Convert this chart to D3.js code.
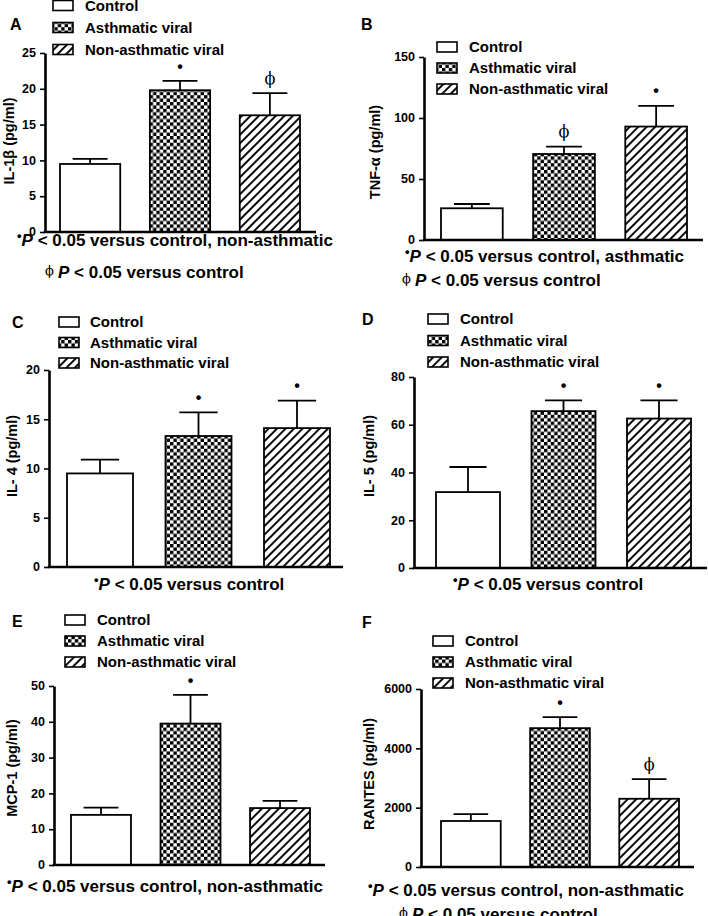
<!DOCTYPE html>
<html>
<head>
<meta charset="utf-8">
<script src="https://cdn.jsdelivr.net/npm/d3@7"></script>
<style>
  html, body { margin: 0; padding: 0; background: #fff; }
  svg { display: block; font-family: "Liberation Sans", Arial, sans-serif; }
</style>
</head>
<body>
<svg id="chart" width="709" height="916"></svg>
<script>
// ---------------- DATA ----------------
const groups = ["Control", "Asthmatic viral", "Non-asthmatic viral"];
const panelLetters = ["A", "B", "C", "D", "E", "F"];
const yLabels = ["IL-1\u03b2 (pg/ml)", "TNF-\u03b1 (pg/ml)", "IL- 4  (pg/ml)", "IL- 5 (pg/ml)", "MCP-1 (pg/ml)", "RANTES (pg/ml)"];
const yMax = [25, 150, 20, 80, 50, 6000];
const yTickStep = [5, 50, 5, 20, 10, 2000];
const meansA = [9.5, 19.8, 16.3];
const meansB = [26, 70.5, 93];
const meansC = [9.5, 13.3, 14.1];
const meansD = [31.8, 65.7, 62.6];
const meansE = [14, 39.5, 15.9];
const meansF = [1550, 4680, 2300];
const semA = [0.7, 1.3, 3.1];
const semB = [3.5, 6, 17];
const semC = [1.4, 2.4, 2.8];
const semD = [10.5, 4.5, 7.6];
const semE = [2, 8, 2];
const semF = [230, 370, 660];
const sigMarks = [
  ["", "\u2022", "\u03d5"],
  ["", "\u03d5", "\u2022"],
  ["", "\u2022", "\u2022"],
  ["", "\u2022", "\u2022"],
  ["", "\u2022", ""],
  ["", "\u2022", "\u03d5"]
];
const footnotes = [
  [["\u2022", "P", " < 0.05 versus control, non-asthmatic"], ["\u03d5", "P", " < 0.05 versus control"]],
  [["\u2022", "P", " < 0.05 versus control, asthmatic"], ["\u03d5", "P", " < 0.05 versus control"]],
  [["\u2022", "P", " < 0.05 versus control"]],
  [["\u2022", "P", " < 0.05 versus control"]],
  [["\u2022", "P", " < 0.05 versus control, non-asthmatic"]],
  [["\u2022", "P", " < 0.05 versus control, non-asthmatic"], ["\u03d5", "P", " < 0.05 versus control"]]
];
const allMeans = [meansA, meansB, meansC, meansD, meansE, meansF];
const allSem = [semA, semB, semC, semD, semE, semF];

// ---------------- LAYOUT ----------------
const layout = [
  {ax:45,  ax2:316, y0:232, yTop:53,  barL:60,  barR:300, letter:[10,30],  leg:[53,5.5,22], legText:85,  ylab:[9,141],   foot:[[17,246],[45,278]]},
  {ax:424, ax2:703, y0:240, yTop:57,  barL:441, barR:687, letter:[361,30], leg:[437,47,21], legText:469, ylab:[375,152], foot:[[405,262],[402,286]]},
  {ax:49,  ax2:343, y0:567, yTop:370, barL:67,  barR:330, letter:[12,328], leg:[59,322,20.5], legText:90, ylab:[12,456], foot:[[94,590]]},
  {ax:414, ax2:707, y0:568, yTop:377, barL:436, barR:691, letter:[362,325], leg:[428,319,21.5], legText:460, ylab:[369,456], foot:[[453,590]]},
  {ax:54,  ax2:325, y0:865, yTop:686, barL:71,  barR:310, letter:[12,627], leg:[65,620,21], legText:97,  ylab:[12,768], foot:[[7,892]]},
  {ax:421, ax2:694, y0:867, yTop:689, barL:441, barR:679, letter:[362,628], leg:[433,641,21], legText:465, ylab:[369,774], foot:[[368,896],[399,920]]}
];

const phiFont = "'DejaVu Serif', 'Liberation Serif', serif";
const svg = d3.select("#chart");
const defs = svg.append("defs");

// checkerboard pattern
const chk = defs.append("pattern").attr("id", "checker")
  .attr("patternUnits", "userSpaceOnUse").attr("width", 6.8).attr("height", 6.8);
chk.append("rect").attr("width", 6.8).attr("height", 6.8).attr("fill", "#fff");
chk.append("rect").attr("x", 0).attr("y", 0).attr("width", 3.4).attr("height", 3.4).attr("fill", "#000");
chk.append("rect").attr("x", 3.4).attr("y", 3.4).attr("width", 3.4).attr("height", 3.4).attr("fill", "#000");

// diagonal hatch pattern "/"
const hat = defs.append("pattern").attr("id", "hatch")
  .attr("patternUnits", "userSpaceOnUse").attr("width", 6).attr("height", 6)
  .attr("patternTransform", "rotate(45)");
hat.append("rect").attr("width", 6).attr("height", 6).attr("fill", "#fff");
hat.append("line").attr("x1", 1).attr("y1", 0).attr("x2", 1).attr("y2", 6)
  .attr("stroke", "#000").attr("stroke-width", 1.9);

const fills = ["#fff", "url(#checker)", "url(#hatch)"];

layout.forEach((L, i) => {
  const g = svg.append("g");
  const means = allMeans[i], sem = allSem[i];

  const y = d3.scaleLinear().domain([0, yMax[i]]).range([L.y0, L.yTop]);
  const x = d3.scaleBand().domain(groups).range([L.barL, L.barR]).paddingInner(0.33).paddingOuter(0);
  const bw = x.bandwidth();

  // panel letter
  g.append("text").attr("x", L.letter[0]).attr("y", L.letter[1])
    .attr("font-size", 16).attr("font-weight", "bold").attr("fill", "#000").text(panelLetters[i]);

  // legend
  groups.forEach((name, k) => {
    const cy = L.leg[1] + k * L.leg[2];
    g.append("rect").attr("x", L.leg[0]).attr("y", cy - 5).attr("width", 20).attr("height", 10)
      .attr("fill", fills[k]).attr("stroke", "#000").attr("stroke-width", 1.6);
    g.append("text").attr("x", L.legText).attr("y", cy).attr("dy", "0.36em")
      .attr("font-size", 15).attr("font-weight", "bold").attr("fill", "#000").text(name);
  });

  // bars
  g.selectAll("rect.bar").data(groups).join("rect").attr("class", "bar")
    .attr("x", d => x(d)).attr("width", bw)
    .attr("y", (d, k) => y(means[k])).attr("height", (d, k) => L.y0 - y(means[k]))
    .attr("fill", (d, k) => fills[k]).attr("stroke", "#000").attr("stroke-width", 1.8);

  // error bars (upper)
  const capW = bw * 0.58;
  groups.forEach((d, k) => {
    const cx = x(d) + bw / 2;
    const top = y(means[k] + sem[k]);
    g.append("line").attr("x1", cx).attr("x2", cx).attr("y1", y(means[k])).attr("y2", top)
      .attr("stroke", "#000").attr("stroke-width", 1.8);
    g.append("line").attr("x1", cx - capW / 2).attr("x2", cx + capW / 2).attr("y1", top).attr("y2", top)
      .attr("stroke", "#000").attr("stroke-width", 1.8);
    const m = sigMarks[i][k];
    if (m) {
      const isPhi = m !== "\u2022";
      g.append("text").attr("x", cx).attr("y", top - 15).attr("dy", "0.35em")
        .attr("text-anchor", "middle").attr("fill", "#000")
        .attr("font-family", isPhi ? phiFont : null)
        .attr("font-size", 16).attr("font-weight", isPhi ? "normal" : "bold")
        .text(m);
    }
  });

  // y axis
  const ticks = d3.range(0, yMax[i] + 1e-9, yTickStep[i]);
  const yAxis = g.append("g").attr("transform", `translate(${L.ax},0)`)
    .call(d3.axisLeft(y).tickValues(ticks).tickSize(5).tickSizeOuter(0).tickPadding(4).tickFormat(d3.format("d")));
  yAxis.select(".domain").attr("stroke-width", 2.6);
  yAxis.selectAll(".tick line").attr("stroke-width", 1.6);
  yAxis.selectAll(".tick text").attr("font-size", 12.5).attr("font-weight", "bold")
    .attr("font-family", "'Liberation Sans', Arial, sans-serif").attr("fill", "#000").attr("dy", "0.3em");

  // x axis line
  g.append("line").attr("x1", L.ax - 1.3).attr("x2", L.ax2).attr("y1", L.y0).attr("y2", L.y0)
    .attr("stroke", "#000").attr("stroke-width", 2.6);

  // y label
  g.append("text").attr("transform", `translate(${L.ylab[0]},${L.ylab[1]}) rotate(-90)`)
    .attr("text-anchor", "middle").attr("dy", "0.35em").attr("fill", "#000")
    .attr("font-size", 14.5).attr("font-weight", "bold").text(yLabels[i]);

  // footnotes
  footnotes[i].forEach((fn, j) => {
    const pos = L.foot[j];
    const t = g.append("text").attr("x", pos[0]).attr("y", pos[1]).attr("fill", "#000")
      .attr("font-size", 17).attr("font-weight", "bold");
    if (fn[0] === "\u2022") {
      t.append("tspan").attr("font-size", 13).attr("dy", -6).text(fn[0]);
      t.append("tspan").attr("dy", 6).attr("font-style", "italic").text(fn[1]);
    } else {
      t.append("tspan").attr("font-size", 13).attr("font-weight", "normal").attr("dy", -3)
        .attr("font-family", phiFont).text(fn[0] + " ");
      t.append("tspan").attr("dy", 3).attr("font-style", "italic").text(fn[1]);
    }
    t.append("tspan").text(fn[2]);
  });
});
</script>
</body>
</html>
